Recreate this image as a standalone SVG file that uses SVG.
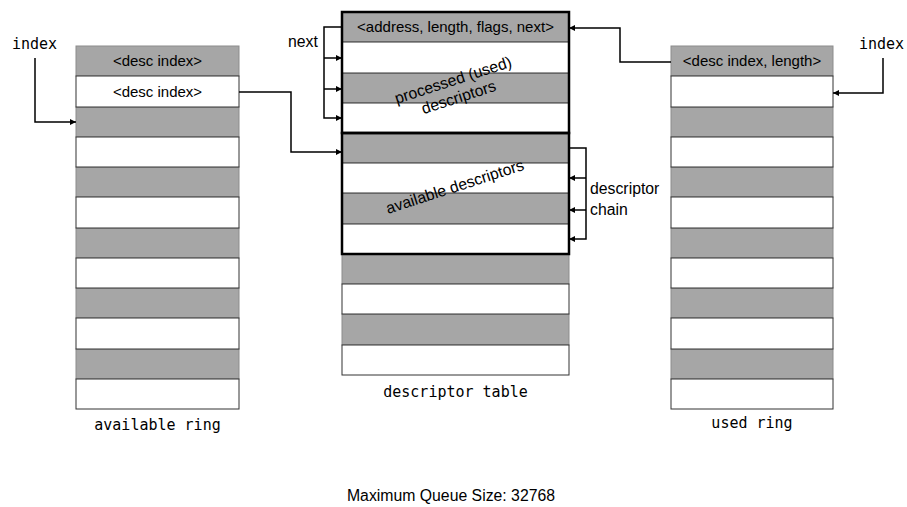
<svg xmlns="http://www.w3.org/2000/svg" width="907" height="507" viewBox="0 0 907 507">
<style>
.g{fill:#a6a6a6;stroke:#8c8c8c;stroke-width:1}
.w{fill:#fff;stroke:#333;stroke-width:1}
.thick{fill:none;stroke:#000;stroke-width:2.5}
.c{fill:none;stroke:#000;stroke-width:1.5}
.s{font-family:"Liberation Sans",Arial,sans-serif;font-size:15px;fill:#000}
.l{font-size:15.8px}
.m{font-family:"DejaVu Sans Mono","Liberation Mono",monospace;font-size:15px;fill:#000}
.mid{text-anchor:middle}
</style>
<defs>
<marker id="ah" markerUnits="userSpaceOnUse" markerWidth="7" markerHeight="6" refX="6" refY="3" orient="auto">
<path d="M0,0 L6,3 L0,6 z" fill="#000"/>
</marker>
</defs>
<rect width="907" height="507" fill="#fff"/>

<g id="available-ring">
<rect class="g" x="76" y="46" width="163" height="30"/>
<rect class="g" x="76" y="107" width="163" height="30"/>
<rect class="g" x="76" y="167" width="163" height="30"/>
<rect class="g" x="76" y="228" width="163" height="30"/>
<rect class="g" x="76" y="288" width="163" height="30"/>
<rect class="g" x="76" y="349" width="163" height="30"/>
<rect class="w" x="76" y="76" width="163" height="31"/>
<rect class="w" x="76" y="137" width="163" height="30"/>
<rect class="w" x="76" y="197" width="163" height="31"/>
<rect class="w" x="76" y="258" width="163" height="30"/>
<rect class="w" x="76" y="318" width="163" height="31"/>
<rect class="w" x="76" y="379" width="163" height="30"/>
<text class="s mid" x="157.5" y="66">&lt;desc index&gt;</text>
<text class="s mid" x="157.5" y="97">&lt;desc index&gt;</text>
<text class="m mid" x="157.5" y="430">available ring</text>
</g>

<g id="descriptor-table">
<rect class="g" x="342" y="12" width="227" height="30"/>
<rect class="g" x="342" y="73" width="227" height="30"/>
<rect class="g" x="342" y="133" width="227" height="30"/>
<rect class="g" x="342" y="193" width="227" height="31"/>
<rect class="g" x="342" y="254" width="227" height="30"/>
<rect class="g" x="342" y="314" width="227" height="31"/>
<rect class="w" x="342" y="42" width="227" height="31"/>
<rect class="w" x="342" y="103" width="227" height="30"/>
<rect class="w" x="342" y="163" width="227" height="30"/>
<rect class="w" x="342" y="224" width="227" height="30"/>
<rect class="w" x="342" y="284" width="227" height="30"/>
<rect class="w" x="342" y="345" width="227" height="30"/>
<rect class="thick" x="342" y="12" width="227" height="121"/>
<rect class="thick" x="342" y="133" width="227" height="121"/>
<text class="s mid" x="455.5" y="32">&lt;address, length, flags, next&gt;</text>
<g transform="rotate(-18 456 89)">
<text class="s l mid" x="456" y="85">processed (used)</text>
<text class="s l mid" x="456" y="103">descriptors</text>
</g>
<text class="s l mid" x="455" y="192" transform="rotate(-18 455 187)">available descriptors</text>
<text class="m mid" x="455.5" y="397">descriptor table</text>
</g>

<g id="used-ring">
<rect class="g" x="671" y="46" width="162" height="30"/>
<rect class="g" x="671" y="107" width="162" height="30"/>
<rect class="g" x="671" y="167" width="162" height="30"/>
<rect class="g" x="671" y="228" width="162" height="30"/>
<rect class="g" x="671" y="288" width="162" height="30"/>
<rect class="g" x="671" y="349" width="162" height="30"/>
<rect class="w" x="671" y="76" width="162" height="31"/>
<rect class="w" x="671" y="137" width="162" height="30"/>
<rect class="w" x="671" y="197" width="162" height="31"/>
<rect class="w" x="671" y="258" width="162" height="30"/>
<rect class="w" x="671" y="318" width="162" height="31"/>
<rect class="w" x="671" y="379" width="162" height="30"/>
<text class="s mid" x="752" y="66">&lt;desc index, length&gt;</text>
<text class="m mid" x="752" y="428">used ring</text>
</g>

<g id="labels">
<text class="m" x="12" y="49">index</text>
<text class="m" x="859" y="49">index</text>
<text class="s l" x="288" y="47">next</text>
<text class="s l" x="590" y="194">descriptor</text>
<text class="s l" x="590" y="215">chain</text>
<text class="s l mid" x="451" y="501">Maximum Queue Size: 32768</text>
</g>

<g id="connectors">
<path class="c" d="M35,58 V122 H76" marker-end="url(#ah)"/>
<path class="c" d="M239,92 H291 V152 H342" marker-end="url(#ah)"/>
<path class="c" d="M342,27 H324 V118 H342" marker-end="url(#ah)"/>
<path class="c" d="M324,58 H342" marker-end="url(#ah)"/>
<path class="c" d="M324,89 H342" marker-end="url(#ah)"/>
<path class="c" d="M671,62 H620 V28 H569" marker-end="url(#ah)"/>
<path class="c" d="M569,148 H586 V239 H569" marker-end="url(#ah)"/>
<path class="c" d="M586,178 H569" marker-end="url(#ah)"/>
<path class="c" d="M586,210 H569" marker-end="url(#ah)"/>
<path class="c" d="M883,58 V93 H833" marker-end="url(#ah)"/>
</g>
</svg>
